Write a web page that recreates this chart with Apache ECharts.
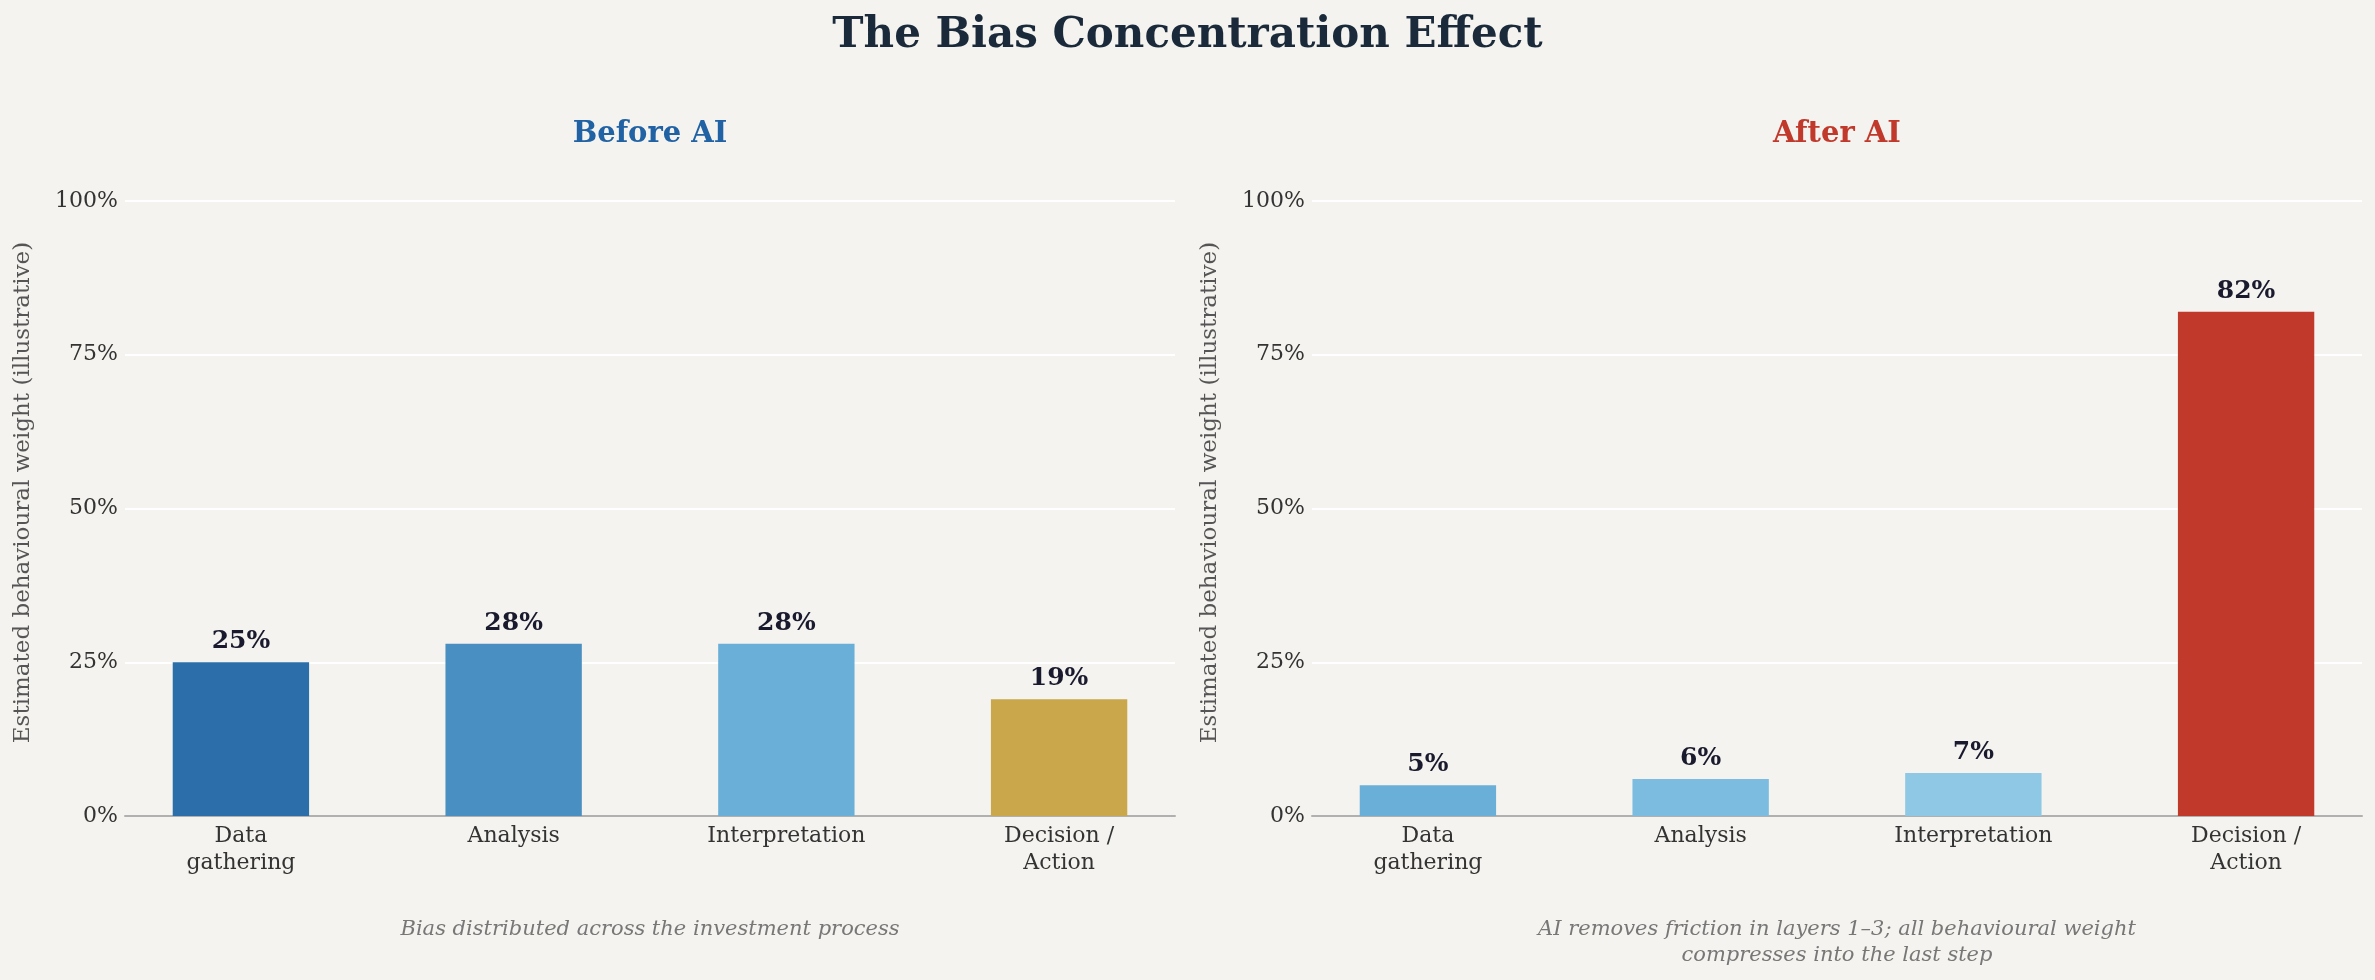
<!DOCTYPE html>
<html>
<head>
<meta charset="utf-8">
<script src="https://cdn.jsdelivr.net/npm/echarts@6/dist/echarts.min.js"></script>
<style>
html,body{margin:0;padding:0;background:#f4f3ef;}
#c{width:2375px;height:980px;}
</style>
</head>
<body>
<div id="c"></div>
<script>
const categories = ['Data\ngathering', 'Analysis', 'Interpretation', 'Decision /\nAction'];
const beforeValues = [25, 28, 28, 19];
const afterValues = [5, 6, 7, 82];
const yTicks = [0, 25, 50, 75, 100];
const panelTitles = ['Before AI', 'After AI'];
const captions = ['Bias distributed across the investment process',
  'AI removes friction in layers 1\u20133; all behavioural weight\ncompresses into the last step'];
const yTitle = 'Estimated behavioural weight (illustrative)';
const mainTitle = 'The Bias Concentration Effect';

const beforeColors = ['#2b6ea9', '#4a8fc2', '#6aafd8', '#c9a74a'];
const afterColors = ['#6aafd8', '#7bbce0', '#8fc8e5', '#c0392b'];

const FONT = '"DejaVu Serif", serif';
const chart = echarts.init(document.getElementById('c'));

const grids = [
  {left: 125, width: 1050, top: 201, bottom: 164},
  {left: 1312, width: 1050, top: 201, bottom: 164}
];

function xAxis(i) {
  return {
    type: 'value', gridIndex: i, min: -0.425, max: 3.425,
    splitLine: {show: false},
    axisLine: {show: true, lineStyle: {color: '#b0b0b0', width: 2}},
    axisTick: {show: false},
    axisLabel: {
      customValues: [0, 1, 2, 3],
      formatter: v => categories[Math.round(v)] || '',
      fontFamily: FONT, fontSize: 22, color: '#333333', lineHeight: 27, margin: 7,
      showMinLabel: true, showMaxLabel: true
    }
  };
}
function yAxis(i) {
  return {
    type: 'value', gridIndex: i, min: yTicks[0], max: yTicks[yTicks.length - 1], interval: 25,
    axisLine: {show: false}, axisTick: {show: false},
    splitLine: {show: true, lineStyle: {color: '#ffffff', width: 2}},
    axisLabel: {formatter: '{value}%', fontFamily: FONT, fontSize: 22, color: '#333333', margin: 7},
    name: yTitle, nameLocation: 'middle', nameGap: 90, nameRotate: 90,
    nameTextStyle: {fontFamily: FONT, fontSize: 23, color: '#555555', padding: [0, 0, 0, 32]}
  };
}
function barSeries(i, vals, colors) {
  return {
    type: 'bar', xAxisIndex: i, yAxisIndex: i, barWidth: '50%',
    data: vals.map((v, k) => ({value: [k, v], itemStyle: {color: colors[k]}})),
    label: {show: true, position: 'top', distance: 8, formatter: p => p.value[1] + '%',
      fontFamily: FONT, fontSize: 25, fontWeight: 'bold', color: '#1a1a2e'},
    silent: true, animation: false
  };
}

chart.setOption({
  backgroundColor: '#f4f3ef',
  animation: false,
  title: [
    {text: mainTitle, left: 'center', top: 15, padding: 0, textStyle: {fontFamily: FONT, fontSize: 42, fontWeight: 'bold', color: '#1b2a3a'}},
    {text: panelTitles[0], left: 650, textAlign: 'center', top: 120, padding: 0, textStyle: {fontFamily: FONT, fontSize: 29, fontWeight: 'bold', color: '#2062a4'}},
    {text: panelTitles[1], left: 1837, textAlign: 'center', top: 120, padding: 0, textStyle: {fontFamily: FONT, fontSize: 29, fontWeight: 'bold', color: '#c0392b'}},
    {text: captions[0], left: 650, textAlign: 'center', top: 917, padding: 0, textStyle: {fontFamily: FONT, fontSize: 21, fontStyle: 'italic', fontWeight: 'normal', color: '#777777', lineHeight: 26}},
    {text: captions[1], left: 1837, textAlign: 'center', top: 917, padding: 0, textStyle: {fontFamily: FONT, fontSize: 21, fontStyle: 'italic', fontWeight: 'normal', color: '#777777', lineHeight: 26}}
  ],
  grid: grids,
  xAxis: [xAxis(0), xAxis(1)],
  yAxis: [yAxis(0), yAxis(1)],
  series: [barSeries(0, beforeValues, beforeColors), barSeries(1, afterValues, afterColors)]
});
</script>
</body>
</html>
